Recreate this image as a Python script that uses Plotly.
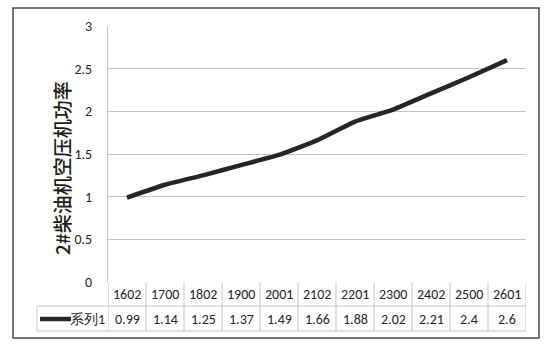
import plotly.graph_objects as go

categories = ["1602", "1700", "1802", "1900", "2001", "2102", "2201", "2300", "2402", "2500", "2601"]
values = [0.99, 1.14, 1.25, 1.37, 1.49, 1.66, 1.88, 2.02, 2.21, 2.4, 2.6]
series_name = "系列1"
y_title = "2#柴油机空压机功率"
y_ticks = [0, 0.5, 1, 1.5, 2, 2.5, 3]
y_ticktext = ["0", "0.5", "1", "1.5", "2", "2.5", "3"]

W, H = 549, 349
L, R, T, B = 108, 526, 26, 282  # plot area in px
FONT = "Carlito, Lato, 'Liberation Sans', sans-serif"

def px(x):
    return (x - L) / (R - L)

def py(y):
    return (B - y) / (B - T)

n = len(categories)
xs = list(range(n))

fig = go.Figure()
fig.add_trace(go.Scatter(
    x=xs, y=values, mode="lines", name=series_name,
    line=dict(color="#262626", width=4.5, shape="spline", smoothing=0.4),
    showlegend=False,
))

shapes = []
grid = "#c4c4c4"
row1_bot = 306
row2_bot = 331
for i in range(n + 1):
    shapes.append(dict(type="line", xref="x", yref="paper",
                       x0=i - 0.5, x1=i - 0.5, y0=py(B), y1=py(row2_bot),
                       line=dict(color=grid, width=1)))
shapes.append(dict(type="line", xref="paper", yref="paper",
                   x0=px(37), x1=px(R), y0=py(row1_bot), y1=py(row1_bot),
                   line=dict(color=grid, width=1)))
shapes.append(dict(type="line", xref="paper", yref="paper",
                   x0=px(37), x1=px(R), y0=py(row2_bot), y1=py(row2_bot),
                   line=dict(color=grid, width=1)))
shapes.append(dict(type="line", xref="paper", yref="paper",
                   x0=px(37), x1=px(37), y0=py(row1_bot), y1=py(row2_bot),
                   line=dict(color=grid, width=1)))
shapes.append(dict(type="line", xref="paper", yref="paper",
                   x0=px(40), x1=px(71), y0=py(319), y1=py(319),
                   line=dict(color="#262626", width=4.5)))
shapes.append(dict(type="rect", xref="paper", yref="paper",
                   x0=px(13), x1=px(539), y0=py(8), y1=py(338),
                   line=dict(color="#4a4a4a", width=1.5)))

TXT = dict(family=FONT, size=14, color="#262626")
annotations = []
for i, (c, v) in enumerate(zip(categories, values)):
    annotations.append(dict(x=i, y=py(294), xref="x", yref="paper", text=c,
                            showarrow=False, font=TXT,
                            xanchor="center", yanchor="middle"))
    annotations.append(dict(x=i, y=py(319), xref="x", yref="paper", text=f"{v:g}",
                            showarrow=False, font=TXT,
                            xanchor="center", yanchor="middle"))
annotations.append(dict(x=px(107), y=py(319), xref="paper", yref="paper", text=series_name,
                        showarrow=False, font=TXT,
                        xanchor="right", yanchor="middle"))
annotations.append(dict(x=px(61), y=py(168), xref="paper", yref="paper", text=y_title,
                        showarrow=False, textangle=-90,
                        font=dict(family="'Noto Sans CJK SC', sans-serif", size=19,
                                  color="#1a1a1a", weight=500),
                        xanchor="center", yanchor="middle"))

fig.update_layout(
    width=W, height=H,
    margin=dict(l=L, r=W - R, t=T, b=H - B),
    paper_bgcolor="white", plot_bgcolor="white",
    shapes=shapes, annotations=annotations,
    xaxis=dict(range=[-0.5, n - 0.5], showticklabels=False, showgrid=False,
               zeroline=False, showline=False, ticks=""),
    yaxis=dict(range=[0, 3], tickvals=y_ticks, ticktext=y_ticktext,
               showgrid=True, gridcolor=grid, gridwidth=1, zeroline=False,
               showline=True, linecolor=grid, linewidth=1, ticks="",
               ticklabelstandoff=12,
               tickfont=TXT),
)

fig.write_html("out.html")
